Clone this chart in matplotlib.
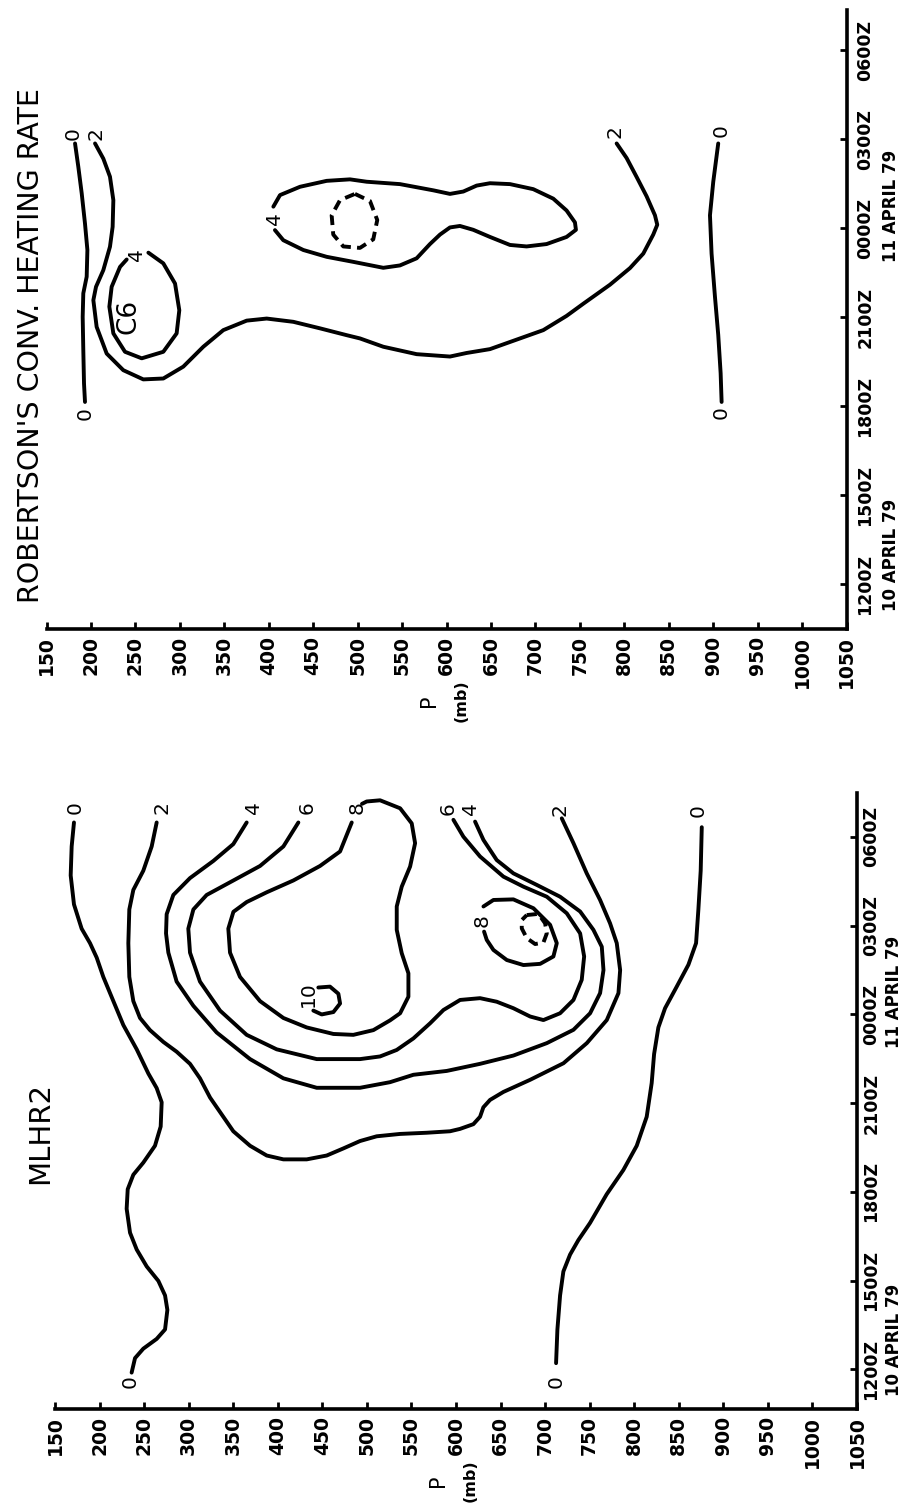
import matplotlib
matplotlib.use('Agg')
import matplotlib.pyplot as plt
import matplotlib.transforms as mtransforms

plt.rcParams['font.family'] = ['DejaVu Sans']

# ---------------- axis values ----------------
pressure_ticks = [150, 200, 250, 300, 350, 400, 450, 500, 550, 600,
                  650, 700, 750, 800, 850, 900, 950, 1000, 1050]
time_ticks = [0, 3, 6, 9, 12, 15, 18]          # hours after 1200Z 10 April 79
time_labels = ['1200Z', '1500Z', '1800Z', '2100Z', '0000Z', '0300Z', '0600Z']
date_labels = ['10 APRIL 79', '11 APRIL 79']
date_starts = [-0.9, 10.85]

# ---------------- Robertson's convective heating rate: (P mb, hours) ----------------
rob_0_upper = [(182.1, 14.86), (185.8, 14.07), (189.6, 13.18), (193.3, 12.16), (196.0, 11.27),
               (195.2, 10.37), (191.4, 9.81), (190.7, 9.02), (191.4, 7.90), (192.2, 6.77),
               (193.3, 6.15)]
rob_2 = [(204.6, 14.86), (213.9, 14.35), (221.4, 13.74), (225.2, 12.95), (224.4, 12.05),
         (221.4, 11.38), (213.9, 10.59), (205.7, 10.03), (202.7, 9.58), (206.4, 8.68),
         (217.7, 7.78), (236.4, 7.22), (258.9, 6.91), (281.4, 6.94), (303.9, 7.34),
         (326.4, 8.01), (348.9, 8.57), (375.2, 8.89), (397.7, 8.96), (427.7, 8.85),
         (457.7, 8.63), (487.7, 8.40), (502.7, 8.29), (528.9, 8.01), (566.4, 7.76),
         (603.9, 7.68), (622.6, 7.80), (648.9, 7.93), (678.9, 8.25), (708.9, 8.57),
         (735.1, 9.05), (753.9, 9.46), (783.9, 10.10), (806.4, 10.66), (821.4, 11.15),
         (832.6, 11.79), (837.1, 12.12), (834.5, 12.44), (825.1, 13.08), (813.9, 13.73),
         (802.6, 14.37), (791.4, 14.86)]
rob_4_small = [(264.6, 11.18), (281.4, 10.82), (294.6, 10.14), (299.4, 9.24), (296.4, 8.46),
               (281.4, 7.84), (257.1, 7.62), (238.3, 7.84), (225.2, 8.46), (220.7, 9.36),
               (223.3, 10.03), (232.7, 10.70), (240.2, 10.95)]
rob_4_big = [(407.0, 11.94), (416.4, 11.60), (438.9, 11.27), (465.2, 11.04), (495.2, 10.87),
             (528.9, 10.67), (547.6, 10.75), (566.4, 10.99), (581.4, 11.47), (592.7, 11.79),
             (603.9, 12.03), (615.1, 12.08), (630.1, 11.95), (648.9, 11.71), (671.4, 11.44),
             (690.1, 11.39), (712.6, 11.47), (735.1, 11.71), (745.6, 11.95), (744.5, 12.20),
             (735.1, 12.60), (720.1, 13.00), (697.6, 13.32), (671.4, 13.49), (648.9, 13.52),
             (633.9, 13.44), (618.9, 13.24), (603.9, 13.16), (585.2, 13.28), (547.6, 13.49),
             (510.2, 13.57), (491.4, 13.65), (465.2, 13.60), (435.2, 13.40), (412.7, 13.12),
             (405.2, 12.73)]
rob_dashed = [(497.0, 13.16), (513.9, 12.92), (522.1, 12.28), (517.6, 11.63), (502.6, 11.34),
              (483.9, 11.39), (472.6, 11.79), (470.8, 12.44), (480.2, 12.95), (497.0, 13.16)]
rob_0_lower = [(905.7, 14.86), (900.1, 13.57), (896.4, 12.44), (898.2, 11.15), (902.0, 9.70),
               (905.7, 8.41), (908.4, 7.12), (909.5, 6.15)]
rob_labels = [('0', 180.5, 15.20), ('0', 193.3, 5.75), ('2', 205.7, 15.20), ('2', 789.5, 15.26),
              ('4', 250.7, 11.10), ('C6', 242.1, 9.02), ('4', 407.0, 12.33),
              ('0', 909.5, 15.31), ('0', 909.5, 5.80)]

# ---------------- MLHR2: (P mb, hours) ----------------
ml_0_upper = [(171.3, 18.49), (168.7, 17.68), (167.6, 16.70), (171.3, 15.72), (179.9, 14.90),
              (189.3, 14.41), (196.8, 13.92), (204.2, 13.27), (215.5, 12.45), (226.7, 11.64),
              (241.7, 10.82), (254.8, 10.00), (264.1, 9.51), (269.7, 9.03), (268.6, 8.21),
              (262.2, 7.56), (249.1, 6.99), (237.9, 6.58), (231.6, 6.09), (230.4, 5.43),
              (234.2, 4.62), (241.7, 4.05), (252.9, 3.48), (266.0, 2.99), (273.5, 2.50),
              (276.1, 2.01), (273.5, 1.35), (264.1, 1.03), (249.1, 0.70), (239.8, 0.38),
              (236.0, -0.11)]
ml_2 = [(264.1, 18.49), (258.5, 17.68), (249.1, 16.86), (237.9, 16.21), (233.4, 15.55),
        (232.3, 14.41), (233.4, 13.27), (237.9, 12.45), (245.4, 11.88), (256.6, 11.47),
        (271.6, 11.07), (286.5, 10.74), (301.5, 10.33), (312.7, 9.84), (324.0, 9.19),
        (335.2, 8.70), (350.1, 8.05), (368.9, 7.56), (387.6, 7.23), (406.3, 7.10),
        (432.5, 7.10), (454.9, 7.23), (473.6, 7.47), (492.3, 7.72), (511.0, 7.88),
        (537.2, 7.96), (567.1, 8.00), (593.3, 8.05), (604.5, 8.13), (619.5, 8.29),
        (627.0, 8.54), (630.7, 8.86), (638.2, 9.11), (653.2, 9.38), (683.2, 9.79),
        (720.6, 10.35), (746.8, 11.03), (769.2, 11.81), (782.3, 12.72), (784.2, 13.50),
        (780.4, 14.41), (772.9, 15.08), (761.7, 15.87), (746.7, 16.77), (731.8, 17.79),
        (718.7, 18.63)]
ml_4 = [(365.1, 18.49), (350.1, 17.76), (327.7, 17.19), (301.5, 16.61), (282.8, 16.04),
        (275.3, 15.39), (274.6, 14.74), (277.2, 14.09), (286.5, 13.11), (305.3, 12.29),
        (331.4, 11.39), (368.9, 10.49), (406.3, 9.84), (443.7, 9.52), (492.3, 9.52),
        (526.0, 9.71), (552.2, 9.96), (589.6, 10.09), (627.0, 10.33), (664.4, 10.61),
        (701.9, 11.03), (731.8, 11.48), (750.5, 12.04), (761.7, 12.72), (765.5, 13.50),
        (763.6, 14.29), (754.2, 14.86), (739.3, 15.48), (716.8, 15.98), (690.6, 16.38),
        (664.4, 16.77), (645.7, 17.22), (630.8, 17.90), (621.4, 18.52)]
ml_6 = [(423.1, 18.49), (406.3, 17.68), (380.1, 17.02), (350.2, 16.53), (320.2, 16.04),
        (305.3, 15.55), (299.6, 14.90), (301.5, 14.09), (312.7, 13.11), (335.2, 12.13),
        (365.1, 11.31), (398.8, 10.82), (443.7, 10.49), (492.3, 10.49), (514.8, 10.58),
        (533.5, 10.80), (552.2, 11.19), (570.9, 11.70), (585.9, 12.15), (604.6, 12.49),
        (627.0, 12.55), (645.7, 12.43), (664.4, 12.21), (683.2, 11.93), (698.1, 11.81),
        (716.8, 12.04), (731.8, 12.49), (741.1, 13.17), (743.8, 13.96), (739.3, 14.74),
        (724.3, 15.42), (701.9, 15.98), (675.7, 16.32), (653.2, 16.66), (627.0, 17.34),
        (608.3, 18.01), (597.1, 18.58)]
ml_8_upper = [(483.0, 18.49), (469.9, 17.51), (447.4, 17.02), (417.5, 16.53), (387.6, 16.13),
              (365.1, 15.80), (350.2, 15.47), (344.5, 14.90), (346.4, 14.09), (357.6, 13.27),
              (380.1, 12.45), (406.3, 11.88), (432.5, 11.56), (462.4, 11.34), (484.8, 11.31),
              (507.3, 11.47), (526.0, 11.80), (537.3, 12.04), (546.6, 12.60), (546.6, 13.39),
              (539.1, 14.07), (533.5, 14.86), (533.5, 15.65), (539.1, 16.32), (548.5, 17.00),
              (554.1, 17.79), (550.3, 18.46), (537.3, 18.97), (514.8, 19.24), (499.8, 19.20),
              (494.5, 19.12)]
ml_8_lower = [(630.8, 15.65), (642.0, 15.87), (664.4, 15.89), (686.9, 15.59), (705.6, 15.03),
              (713.1, 14.41), (709.3, 13.96), (694.4, 13.71), (675.7, 13.67), (657.0, 13.84),
              (642.0, 14.18), (634.5, 14.52), (631.5, 14.80)]
ml_10 = [(445.5, 12.91), (458.6, 12.94), (468.0, 12.70), (469.9, 12.37), (462.4, 12.08),
         (449.3, 12.00), (439.9, 12.13)]
ml_dashed = [(679.4, 15.36), (692.5, 15.40), (700.0, 15.08), (701.9, 14.74), (698.1, 14.43),
             (688.8, 14.38), (679.4, 14.58), (673.8, 14.91), (673.8, 15.19), (679.4, 15.36)]
ml_0_lower = [(875.8, 18.33), (874.6, 16.86), (872.0, 15.55), (869.4, 14.41), (860.8, 13.68),
              (847.7, 12.94), (834.6, 12.21), (827.1, 11.56), (822.3, 10.66), (819.6, 9.68),
              (814.0, 8.54), (802.8, 7.56), (787.8, 6.74), (769.1, 5.92), (750.4, 4.95),
              (737.3, 4.37), (728.0, 3.88), (720.5, 3.31), (716.8, 2.50), (713.8, 1.35),
              (712.3, 0.21)]
ml_labels = [('0', 172.4, 18.98), ('0', 234.2, -0.41), ('2', 269.7, 18.98), ('4', 372.6, 18.98),
             ('6', 432.5, 18.98), ('8', 488.6, 18.98), ('6', 591.5, 18.97), ('4', 615.8, 18.97),
             ('2', 716.8, 18.91), ('0', 872.0, 18.90), ('0', 712.3, -0.41),
             ('8', 628.9, 15.19), ('10', 434.3, 12.70)]

# ---------------- figure ----------------
fig = plt.figure(figsize=(9.0, 15.07), dpi=100)
fig.patch.set_facecolor('white')

ax_top = fig.add_axes([0.05167, 0.58262, 0.88889, 0.41101])
ax_bot = fig.add_axes([0.06111, 0.06503, 0.89111, 0.40843])


def setup(ax, ylim, time_pad, date_x):
    ax.set_xlim(150, 1050)
    ax.set_ylim(*ylim)
    ax.set_facecolor('white')
    for s in ['left', 'top']:
        ax.spines[s].set_visible(False)
    for s in ['bottom', 'right']:
        ax.spines[s].set_linewidth(2.6)
    ax.yaxis.tick_right()
    ax.set_xticks(pressure_ticks)
    ax.set_xticklabels([str(p) for p in pressure_ticks], rotation=90,
                       fontsize=13.5, fontweight='bold')
    ax.tick_params(axis='x', direction='in', length=5, width=2, pad=5)
    ax.set_yticks(time_ticks)
    ax.set_yticklabels(time_labels, rotation=90, va='center',
                       fontsize=12.5, fontweight='bold')
    ax.tick_params(axis='y', direction='in', length=5, width=2, pad=time_pad)
    xa_yd = mtransforms.blended_transform_factory(ax.transAxes, ax.transData)
    for lab, t0 in zip(date_labels, date_starts):
        ax.text(date_x, t0, lab, transform=xa_yd, rotation=90, ha='center', va='bottom',
                fontsize=12, fontweight='bold', clip_on=False)
    xd_ya = mtransforms.blended_transform_factory(ax.transData, ax.transAxes)
    ax.text(580, -0.116, 'P', transform=xd_ya, rotation=90, ha='center', va='center',
            fontsize=15)
    ax.text(616, -0.116, '(mb)', transform=xd_ya, rotation=90, ha='center', va='center',
            fontsize=11.5, fontweight='bold')
    return xa_yd


def draw_line(ax, pts, dashed=False):
    ps = [p for p, t in pts]
    ts = [t for p, t in pts]
    ax.plot(ps, ts, color='black', lw=2.8,
            linestyle=(0, (2.6, 1.6)) if dashed else '-',
            solid_capstyle='round', solid_joinstyle='round',
            dash_capstyle='butt')


def draw_labels(ax, labels):
    for s, p, t in labels:
        ax.text(p, t, s, rotation=90, ha='center', va='center',
                fontsize=19 if s == 'C6' else 14.5)


tr_top = setup(ax_top, (-1.50, 19.37), 7, 1.056)
for line in [rob_0_upper, rob_2, rob_4_small, rob_4_big, rob_0_lower]:
    draw_line(ax_top, line)
draw_line(ax_top, rob_dashed, dashed=True)
draw_labels(ax_top, rob_labels)
ax_top.text(-0.0194, -0.62, "ROBERTSON'S CONV. HEATING RATE", transform=tr_top,
            rotation=90, ha='center', va='bottom', fontsize=20.5)

tr_bot = setup(ax_bot, (-1.34, 19.47), 4, 1.046)
for line in [ml_0_upper, ml_2, ml_4, ml_6, ml_8_upper, ml_8_lower, ml_10, ml_0_lower]:
    draw_line(ax_bot, line)
draw_line(ax_bot, ml_dashed, dashed=True)
draw_labels(ax_bot, ml_labels)
ax_bot.text(-0.0187, 6.27, 'MLHR2', transform=tr_bot,
            rotation=90, ha='center', va='bottom', fontsize=21)

fig.savefig('out.png', dpi=100, facecolor='white')
